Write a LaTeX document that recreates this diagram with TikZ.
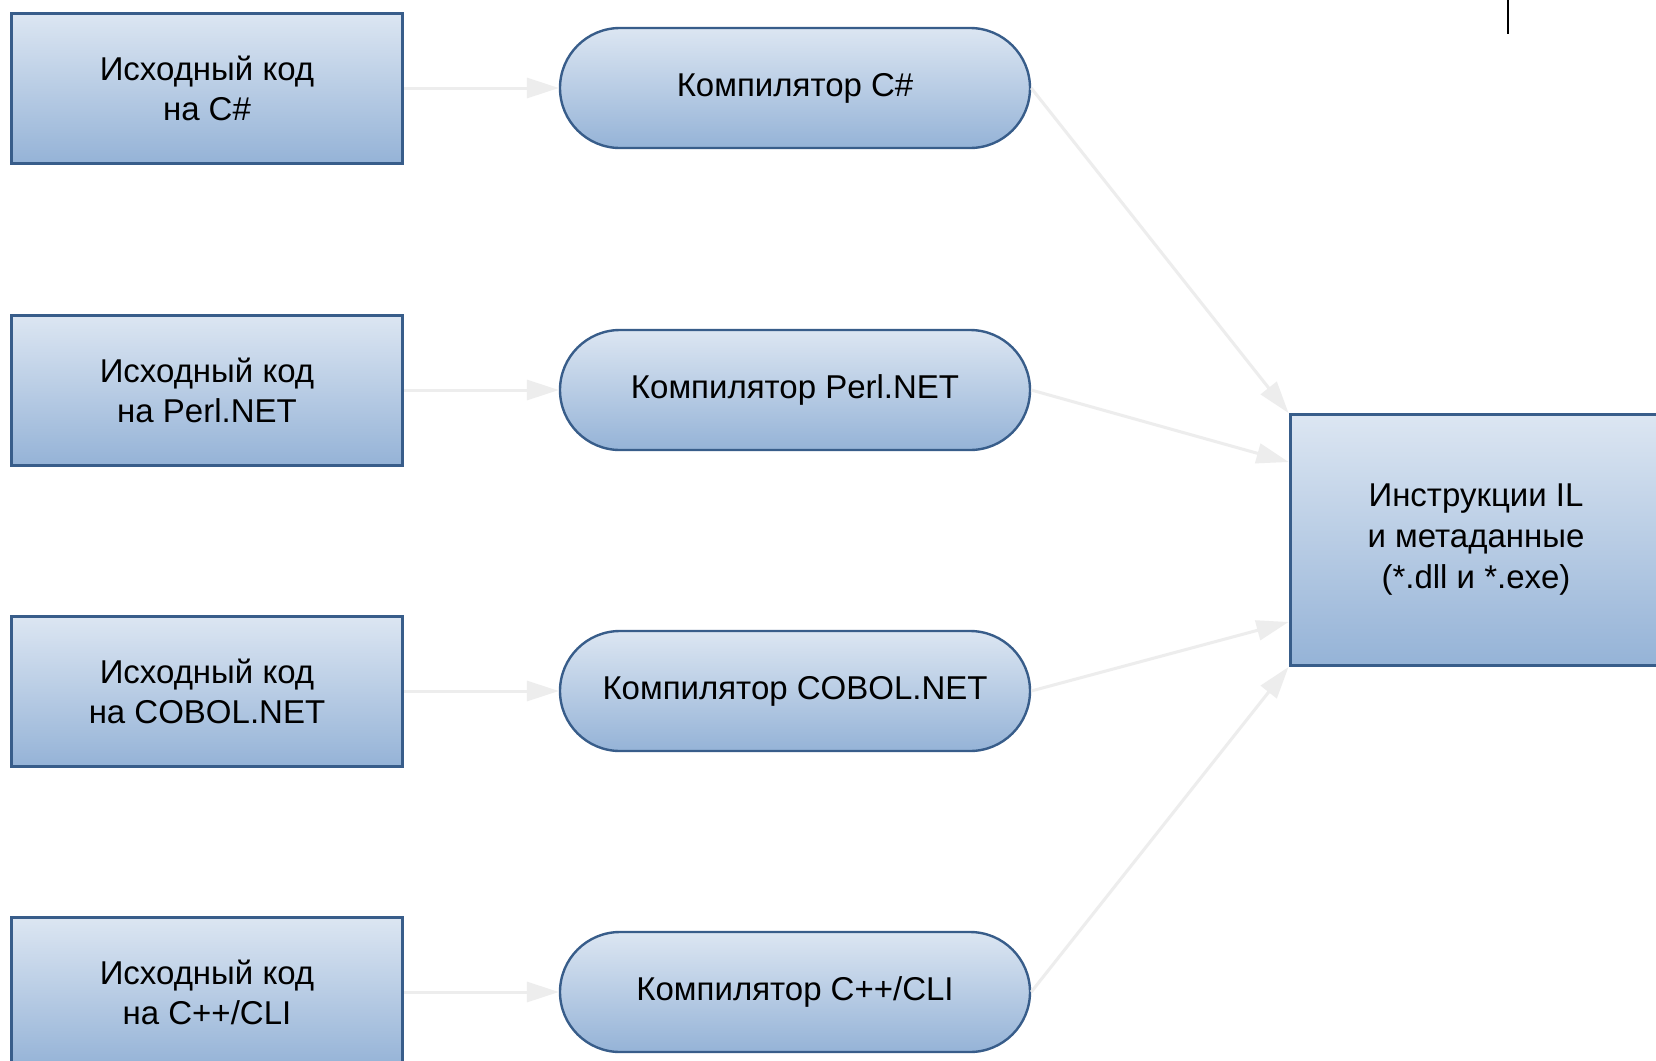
\documentclass[tikz,border=0pt]{standalone}
\usepackage{fontspec}
\setmainfont{Liberation Sans}
\usetikzlibrary{arrows.meta,calc}
\definecolor{fillTop}{HTML}{DCE6F2}
\definecolor{fillBot}{HTML}{95B3D7}
\definecolor{edgeBlue}{HTML}{385D8A}
\definecolor{arrowGray}{HTML}{EDEDED}
\tikzset{
  srcbox/.style={rectangle, draw=edgeBlue, line width=1.5pt, top color=fillTop, bottom color=fillBot,
    minimum width=195.5pt, minimum height=75pt, align=center, inner sep=0pt,
    font=\fontsize{16.5}{20}\selectfont},
  compbox/.style={rectangle, rounded corners=30pt, draw=edgeBlue, line width=1.2pt, top color=fillTop, bottom color=fillBot,
    minimum width=235pt, minimum height=60pt, align=center, inner sep=0pt,
    font=\fontsize{16.5}{20}\selectfont},
  outbox/.style={rectangle, draw=edgeBlue, line width=1.5pt, top color=fillTop, bottom color=fillBot,
    minimum width=186pt, minimum height=125.5pt, align=center, inner sep=0pt,
    font=\fontsize{16.5}{20.5}\selectfont},
  flow/.style={draw=arrowGray, line width=1.5pt, -{Triangle[length=16pt,width=10pt]}, arrowGray}
}
\begin{document}
\begin{tikzpicture}[x=0.5pt,y=-0.5pt]
\useasboundingbox (0,0) rectangle (1656,1061);
\clip (0,0) rectangle (1656,1061);
\fill[white] (0,0) rectangle (1656,1061);

\node[srcbox] (b1) at (207,88)  {Исходный код\\на C\#};
\node[srcbox] (b2) at (207,390) {Исходный код\\на Perl.NET};
\node[srcbox] (b3) at (207,691) {Исходный код\\на COBOL.NET};
\node[srcbox] (b4) at (207,992) {Исходный код\\на C++/CLI};

\node[compbox] (c1) at (795,88)  {Компилятор C\#};
\node[compbox] (c2) at (795,390) {Компилятор Perl.NET};
\node[compbox] (c3) at (795,691) {Компилятор COBOL.NET};
\node[compbox] (c4) at (795,992) {Компилятор C++/CLI};

\node[outbox] (r) at (1476,540) {Инструкции IL\\и метаданные\\(*.dll и *.exe)};

\draw[flow] (b1.east) -- (c1.west);
\draw[flow] (b2.east) -- (c2.west);
\draw[flow] (b3.east) -- (c3.west);
\draw[flow] (b4.east) -- (c4.west);

\draw[flow] (c1.east) -- (r.north west);
\draw[flow] (c2.east) -- ([yshift=-24.5pt]r.north west);
\draw[flow] (c3.east) -- ([yshift=22.5pt]r.south west);
\draw[flow] (c4.east) -- (r.south west);

\draw[black, line width=0.9pt] (1508,0) -- (1508,34);
\end{tikzpicture}
\end{document}
